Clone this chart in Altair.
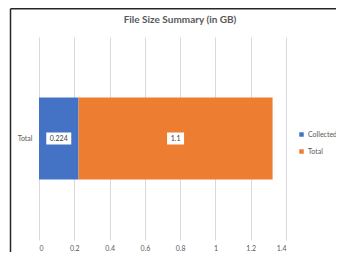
import altair as alt
import pandas as pd

categories = ["Total"]
series = ["Collected", "Total"]
values = [0.224, 1.1]
x_ticks = [0, 0.2, 0.4, 0.6, 0.8, 1, 1.2, 1.4]
colors = ["#4472C4", "#ED7D31"]
title_text = "File Size Summary (in GB)"

df = pd.DataFrame({
    "cat": categories * len(series),
    "series": series,
    "value": values,
    "idx": list(range(len(series))),
})

W, H = 247, 203
PAD_L, PAD_T, PAD_R, PAD_B = 31, 29, 50, 12
FONT = "Lato"
GRAY = "#595959"

base = (
    alt.Chart(df)
    .transform_stack(stack="value", as_=["x0", "x1"], groupby=["cat"],
                     sort=[alt.SortField("idx")])
    .transform_calculate(
        mid="(datum.x0 + datum.x1) / 2",
        label="format(datum.value, '~g')",
    )
    .transform_calculate(bw="length(datum.label) * 4 + 5")
)

x_scale = alt.Scale(domain=[0, 1.4], nice=False, zero=True)
x_axis = alt.Axis(values=x_ticks, format="~g", grid=True, gridColor="#d9d9d9",
                  domain=False, ticks=False, labelFontSize=7, labelColor=GRAY,
                  labelFont=FONT, labelPadding=4, labelOverlap=False)
y_axis = alt.Axis(domain=False, ticks=False, grid=False, labelPadding=7,
                  labelFontSize=7, labelColor=GRAY, labelFont=FONT)

bars = base.mark_bar(size=82).encode(
    x=alt.X("x0:Q", title=None, scale=x_scale, axis=x_axis),
    x2="x1:Q",
    y=alt.Y("cat:N", title=None, axis=y_axis),
    color=alt.Color("series:N", title=None,
                    scale=alt.Scale(domain=series, range=colors),
                    legend=alt.Legend(orient="none", legendX=259, legendY=94,
                                      symbolType="square", symbolSize=20,
                                      labelFontSize=7, labelColor=GRAY, labelFont=FONT,
                                      labelOffset=3, rowPadding=9, padding=0)),
    order=alt.Order("idx:Q"),
)

boxes = base.mark_tick(orient="horizontal", thickness=12, color="white", opacity=1).encode(
    x=alt.X("mid:Q", title=None, scale=x_scale, axis=x_axis),
    y=alt.Y("cat:N", title=None, axis=y_axis),
    size=alt.Size("bw:Q", scale=None),
)

labels = base.mark_text(fontSize=7, color="#404040", font=FONT).encode(
    x=alt.X("mid:Q", title=None, scale=x_scale, axis=x_axis),
    y=alt.Y("cat:N", title=None, axis=y_axis),
    text="label:N",
)

one = pd.DataFrame({"a": [0]})
title_mark = alt.Chart(one).mark_text(fontSize=10, font=FONT, fontWeight="bold",
                                      color=GRAY, baseline="middle", align="center").encode(
    x=alt.value(141), y=alt.value(-17), text=alt.value(title_text)
)
top_line = alt.Chart(one).mark_rule(color="#262626", strokeWidth=1.5).encode(
    x=alt.value(-28.5), x2=alt.value(W + PAD_R), y=alt.value(-28.2)
)
left_line = alt.Chart(one).mark_rule(color="#262626", strokeWidth=1.5).encode(
    x=alt.value(-28.5), y=alt.value(-28.2), y2=alt.value(H + PAD_B)
)

chart = (
    alt.layer(bars, boxes, labels, title_mark, top_line, left_line)
    .properties(
        width=W, height=H,
        padding={"left": PAD_L, "top": PAD_T, "right": PAD_R, "bottom": PAD_B},
        autosize=alt.AutoSizeParams(type="none"),
    )
    .configure_view(stroke=None)
)

chart.save("out.html", embed_options={"renderer": "svg", "actions": False})
